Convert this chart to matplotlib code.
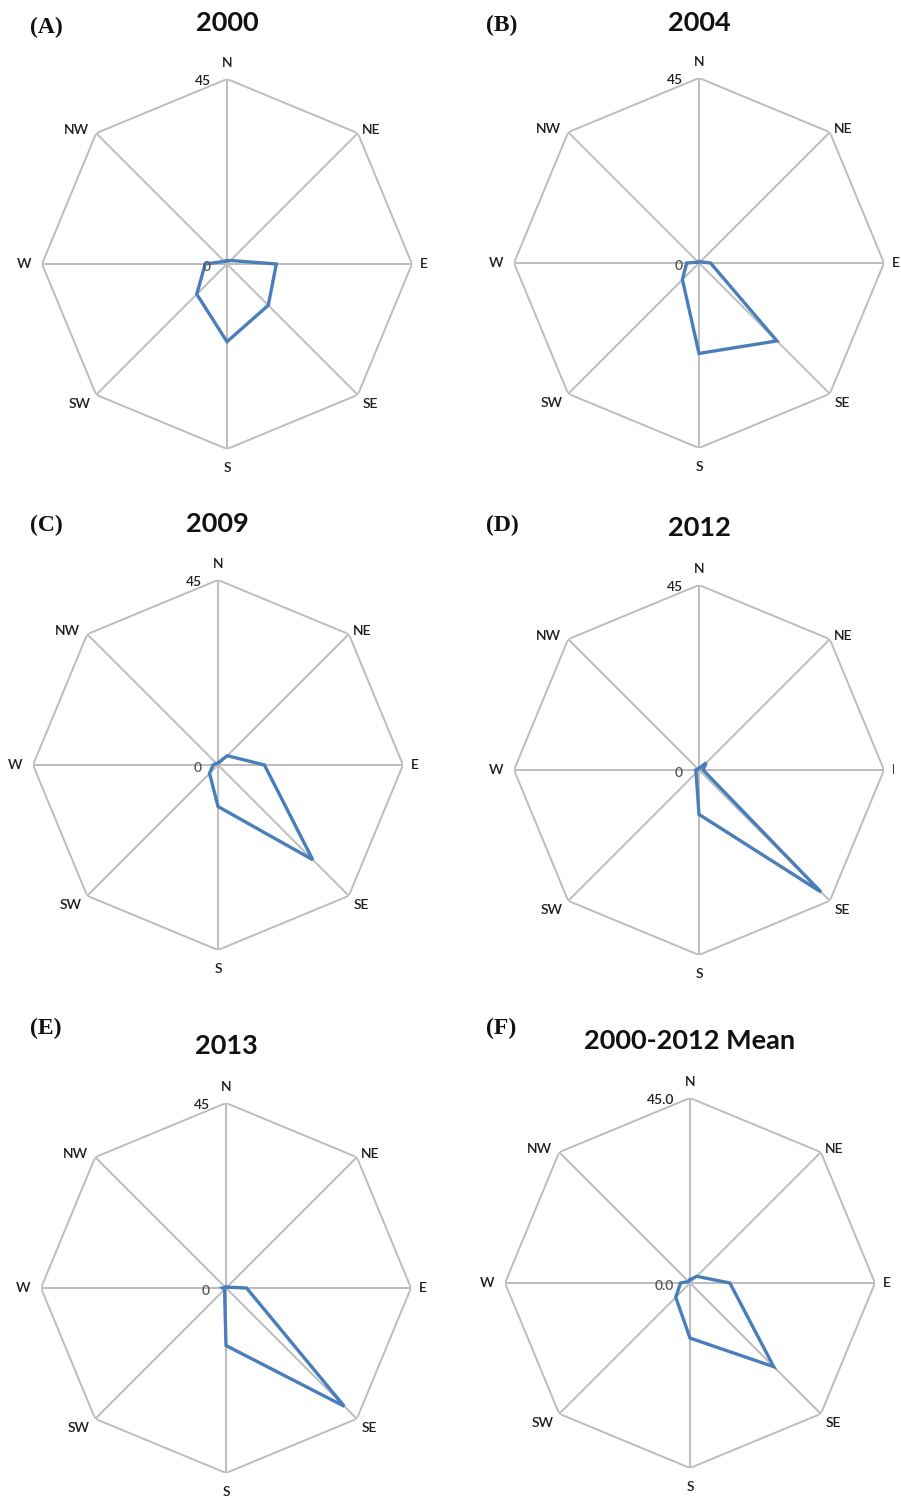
import numpy as np
import matplotlib
matplotlib.use("Agg")
import matplotlib.pyplot as plt
from matplotlib.patches import Rectangle

directions = ["N", "NE", "E", "SE", "S", "SW", "W", "NW"]
titles = ["2000", "2004", "2009", "2012", "2013", "2000-2012 Mean"]
letters = ["(A)", "(B)", "(C)", "(D)", "(E)", "(F)"]
max_labels = ["45", "45", "45", "45", "45", "45.0"]
zero_labels = ["0", "0", "0", "0", "0", "0.0"]

vals_2000 = [0.8, 1.2, 12.0, 14.2, 18.9, 10.4, 5.3, 0.9]
vals_2004 = [0.3, 0.4, 2.8, 26.8, 22.0, 5.7, 3.0, 0.3]
vals_2009 = [0.5, 3.2, 11.3, 32.6, 10.1, 2.9, 1.2, 0.5]
vals_2012 = [0.4, 2.5, 1.0, 42.0, 10.8, 1.0, 0.8, 0.3]
vals_2013 = [0.2, 0.3, 5.0, 40.7, 14.0, 0.5, 0.8, 0.2]
vals_mean = [0.8, 2.3, 9.7, 28.8, 13.4, 4.9, 2.3, 0.5]
series = [vals_2000, vals_2004, vals_2009, vals_2012, vals_2013, vals_mean]

rmax = 45.0

W, H = 901, 1501
DPI = 100
fig = plt.figure(figsize=(W / DPI, H / DPI), dpi=DPI)

# panel centers (pixels, from top-left) and radius
centers = [(227, 264), (699, 263), (218, 765), (699, 770), (226, 1288), (690, 1283)]
R = 185
title_pos = [(227, 23), (699, 23), (217, 524), (699, 528), (226, 1046), (690, 1041)]
letter_pos = [(30, 27), (486, 25), (30, 525), (486, 525), (30, 1028), (486, 1028)]

grid_color = "#bdbdbd"
line_color = "#4a7ebb"
text_color = "#1f1f1f"
lab_font = "Lato"

px = 72.0 / DPI  # pixels -> points

# label offsets (pixels) and alignments for each direction
lab_cfg = {
    "N": (0, 16, "center", "center"),
    "NE": (4, 3, "left", "center"),
    "E": (8, 0, "left", "center"),
    "SE": (5, -9, "left", "center"),
    "S": (0, -19, "center", "center"),
    "SW": (-6, -9, "right", "center"),
    "W": (-11, 0, "right", "center"),
    "NW": (-7, 3, "right", "center"),
}

angles = np.deg2rad(np.arange(8) * 45.0)

for i in range(6):
    cx, cy = centers[i]
    ax = fig.add_axes([(cx - R) / W, 1 - (cy + R) / H, 2 * R / W, 2 * R / H],
                      projection="polar")
    ax.set_theta_zero_location("N")
    ax.set_theta_direction(-1)
    ax.set_ylim(0, rmax)
    ax.grid(False)
    ax.set_xticks([])
    ax.set_yticks([])
    ax.spines["polar"].set_visible(False)
    ax.patch.set_alpha(0)

    # octagon frame
    th = np.append(angles, angles[0])
    ax.plot(th, [rmax] * 9, color=grid_color, lw=1.4, zorder=1)
    for a in angles:
        ax.plot([a, a], [0, rmax], color=grid_color, lw=1.4, zorder=1)

    # data polygon
    v = series[i]
    ax.plot(th, list(v) + [v[0]], color=line_color, lw=2.4, zorder=3,
            solid_joinstyle="miter")

    # direction labels
    for a, d in zip(angles, directions):
        dx, dy, ha, va = lab_cfg[d]
        t = ax.annotate(d, xy=(a, rmax), xytext=(dx * px, dy * px),
                        textcoords="offset points", ha=ha, va=va,
                        fontsize=10, family=lab_font, fontweight="semibold",
                        color=text_color, annotation_clip=False)
        if i == 3 and d == "E":
            clip = Rectangle((0, 0), 894, H, transform=None)
            t.set_clip_path(clip)

    # scale labels
    ax.annotate(max_labels[i], xy=(0, rmax), xytext=(-16 * px, -2 * px),
                textcoords="offset points", ha="right", va="center",
                fontsize=10, family=lab_font, fontweight="semibold",
                color=text_color, annotation_clip=False)
    ax.annotate(zero_labels[i], xy=(0, 0), xytext=(-16 * px, -3 * px),
                textcoords="offset points", ha="right", va="center",
                fontsize=10, family=lab_font, fontweight="semibold",
                color="#555555", annotation_clip=False)

    tx, ty = title_pos[i]
    fig.text(tx / W, 1 - ty / H, titles[i], ha="center", va="center",
             fontsize=19.5, fontweight="bold", family=lab_font, color="#111111")
    lx, ly = letter_pos[i]
    fig.text(lx / W, 1 - ly / H, letters[i], ha="left", va="center",
             fontsize=17, fontweight="bold", family="Liberation Serif",
             color="#111111")

fig.savefig("out.png", dpi=DPI)
